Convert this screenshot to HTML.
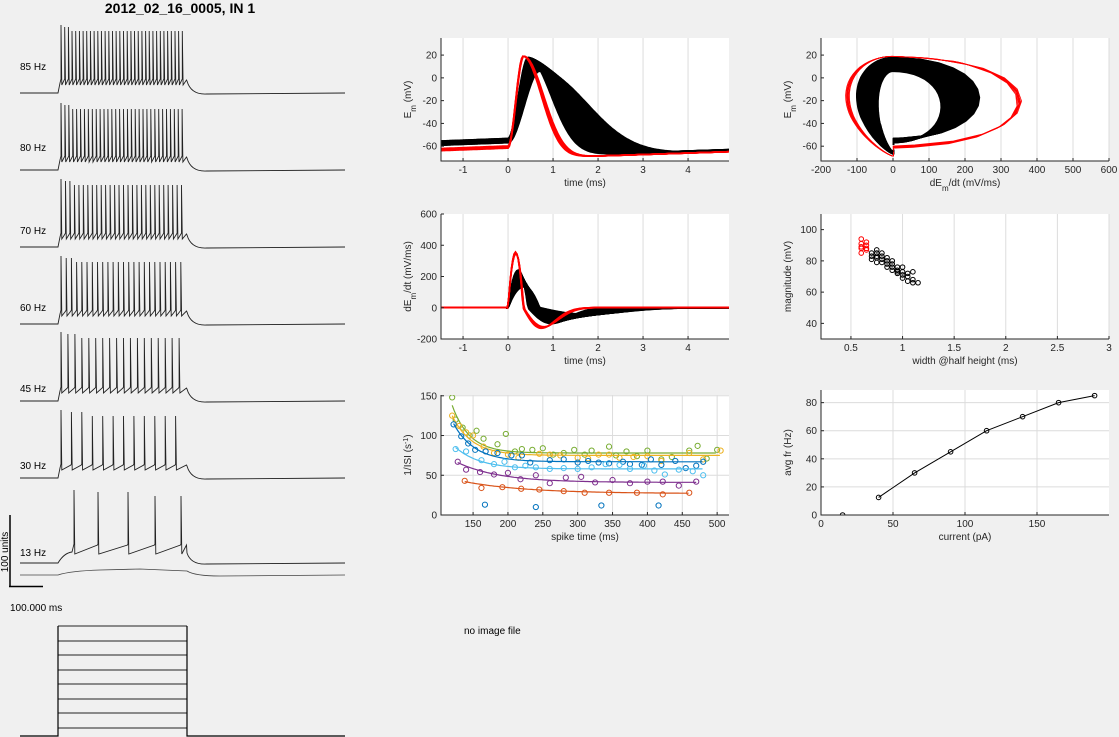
<!DOCTYPE html>
<html><head><meta charset="utf-8"><style>
body{margin:0;background:#f0f0f0;}
svg{display:block;font-family:"Liberation Sans",sans-serif;}
text{fill:#262626;font-size:10px;}
</style></head><body>
<svg id="s" width="1119" height="737" viewBox="0 0 1119 737" xmlns="http://www.w3.org/2000/svg">
<text x="180" y="13" text-anchor="middle" style="font-size:14px;font-weight:bold;fill:#000">2012_02_16_0005, IN 1</text>
<text x="464" y="634" style="font-size:10px;fill:#000">no image file</text>
<text x="10" y="611" style="font-size:10px;fill:#000">100.000 ms</text>
<line x1="10" y1="515" x2="10" y2="587" stroke="#000" stroke-width="1.5"/>
<line x1="9" y1="586.5" x2="43" y2="586.5" stroke="#000" stroke-width="1.5"/>
<text transform="translate(8,552) rotate(-90)" text-anchor="middle" style="font-size:10px;fill:#000">100 units</text>
<g id="traces"></g>
<g id="stim"></g>
<g id="charts"></g>
</svg>
<script>
// ---- data ----
const traceFreqs=[85,80,70,60,45,30,13];
const traceBase=[93,170,247,324,401,478,563];
const traceTop=[25,103,179,256,332,410,490];
const traceLabelY=[70,151,234,311,392,469,556];
const lowSpikeX=[74,98,128,155,181];
const stimLevels=[626,641,655,670,684,699,713,728];
const fiCurrent=[15,40,65,90,115,140,165,190];
const fiRate=[0,12.5,30,45,60,70,80,85];
const redWidth=[0.6,0.6,0.6,0.6,0.6,0.65,0.65,0.65,0.65];
const redMag=[94,91,88,85,89,92,90,87,88];
const blackWidth=[0.7,0.7,0.7,0.75,0.75,0.75,0.75,0.75,0.8,0.8,0.8,0.8,0.85,0.85,0.85,0.85,0.9,0.9,0.9,0.9,0.95,0.95,0.95,0.95,1,1,1,1,1.05,1.05,1.05,1.1,1.1,1.1,1.15];
const blackMag=[85,83,81,87,85,83,82,79,85,83,81,79,82,80,78,76,80,78,76,74,76,74,72,73,76,73,71,69,72,70,67,73,68,66,66];
const isiColors=['#77ac30','#edb120','#0072bd','#4dbeee','#7e2f8e','#d95319'];
const isiT=[
[120,125,135,145,155,165,185,197,210,220,235,250,265,280,295,310,320,345,355,370,385,400,420,435,460,472,485,500],
[120,130,140,150,165,180,200,215,245,260,275,300,315,330,345,360,380,400,420,460,480,505],
[122,133,143,153,168,185,205,220,232,260,280,300,315,330,345,365,375,392,405,420,440,455,470,480,167,240,334,416],
[125,140,162,180,195,210,225,240,260,280,300,320,340,360,375,395,410,425,445,465,480],
[128,140,160,180,200,218,240,260,283,305,325,350,375,400,422,445,470],
[138,162,192,219,245,280,310,345,385,422,460]];
const isiV=[
[148,120,110,100,106,96,89,102,80,83,82,84,76,78,82,76,81,86,75,80,74,81,70,73,81,87,71,82],
[125,112,104,100,86,78,76,72,77,76,75,72,71,76,76,72,73,74,68,78,70,81],
[114,99,90,82,80,78,75,75,66,69,70,66,68,66,65,67,64,63,70,63,68,59,62,67,13,10,12,12],
[83,80,69,64,67,60,62,60,58,59,58,60,64,63,58,62,56,51,57,55,50],
[67,57,54,51,53,45,50,40,47,48,41,44,40,42,42,37,42],
[43,34,35,33,32,30,28,28,28,26,28]];
const fitA=[78,75,67,58,41,27], fitB=[60,50,48,27,25,15], fitTau=[25,28,30,35,60,90], fitT0=[120,120,122,125,128,138], fitT1=[500,505,480,480,472,460];
const spikeK=[]; for(let i=0;i<40;i++) spikeK.push(0.15+0.85*i/39);
const redK=[0,0.02,0.04,0.06,0.08,0.1,0.05,0.03];

const NS='http://www.w3.org/2000/svg';
const S=document.getElementById('s');
function el(tag,attrs,parent){const e=document.createElementNS(NS,tag);for(const k in attrs)e.setAttribute(k,attrs[k]);(parent||S).appendChild(e);return e;}

// ---- left traces ----
const TG=document.getElementById('traces');
traceFreqs.forEach((f,i)=>{
  const b=traceBase[i], top=traceTop[i], n=Math.round(f*0.4);
  const plat=b-14, x0=58,x1=187;
  let xs=[];
  if(f<20) xs=lowSpikeX.slice();
  else {const sp=(x1-x0-4)/n; for(let j=0;j<n;j++) xs.push(x0+3+j*sp);}
  let d=`M20 ${b} L${x0} ${b}`;
  if(f<20) d+=` Q${x0+6} ${b-10} ${x0+14} ${b-11}`; else d+=` L${x0+2} ${plat+4}`;
  xs.forEach((x,j)=>{
    const nx=(j+1<xs.length)?xs[j+1]:x1;
    const pl=f<20?b-13:plat;
    d+=` L${x.toFixed(1)} ${pl-(f<20?6:0)} L${x.toFixed(1)} ${top+(j===0?0:j<3?2:6)} L${(x+0.8).toFixed(1)} ${pl+(f<20?4:6)} L${(nx-0.5).toFixed(1)} ${pl-(f<20?6:0)+1}`;
  });
  d+=` L${x1} ${(f<20?b-10:plat+2)} Q${x1+4} ${b+2} ${x1+20} ${b+1} L345 ${b}`;
  const p=el('path',{d,fill:'none',stroke:'#222','stroke-width':0.9},TG);
  
  
  const t=el('text',{x:20,y:traceLabelY[i],style:'font-size:10px;fill:#000'},TG);
  t.textContent=f+' Hz';
  
  
});
const extra=el('path',{d:'M20 575 L58 575 Q70 571 100 570 L140 569 L187 571 Q195 576 220 576 L345 575',fill:'none',stroke:'#444','stroke-width':0.8},TG);


const SG=document.getElementById('stim');
stimLevels.forEach((y,i)=>{
  const l=el('line',{x1:58,y1:y,x2:187,y2:y,stroke:'#222','stroke-width':1},SG);
  
  
});
el('path',{d:'M20 736 L58 736 L58 626 M187 626 L187 736 L345 736',fill:'none',stroke:'#000','stroke-width':1.2},SG);

// ---- axes helper ----
const CG=document.getElementById('charts');
let clipId=0;
function axes(name,box,xd,yd,xt,yt,xlab,ylab,hgrid){
  const g=el('g',{},CG);
  
  
  const [L,T,R,B]=box;
  el('rect',{x:L,y:T,width:R-L,height:B-T,fill:'#fff'},g);
  const sx=v=>L+(v-xd[0])/(xd[1]-xd[0])*(R-L);
  const sy=v=>B-(v-yd[0])/(yd[1]-yd[0])*(B-T);
  xt.forEach(v=>{const x=sx(v);el('line',{x1:x,y1:T,x2:x,y2:B,stroke:'#dcdcdc','stroke-width':1},g);});
  if(hgrid) yt.forEach(v=>{const y=sy(v);el('line',{x1:L,y1:y,x2:R,y2:y,stroke:'#dcdcdc','stroke-width':1},g);});
  const id='c'+(clipId++);
  const cp=el('clipPath',{id},g); el('rect',{x:L,y:T,width:R-L,height:B-T},cp);
  const plot=el('g',{'clip-path':`url(#${id})`},g);
  
  
  const ax=el('g',{},g);
  el('path',{d:`M${L} ${T} L${L} ${B} L${R} ${B}`,fill:'none',stroke:'#262626','stroke-width':1},ax);
  xt.forEach(v=>{const x=sx(v);el('line',{x1:x,y1:B,x2:x,y2:B-3,stroke:'#262626'},ax);
    const t=el('text',{x,y:B+12,'text-anchor':'middle'},ax);t.textContent=v;
    });
  yt.forEach(v=>{const y=sy(v);el('line',{x1:L,y1:y,x2:L+3,y2:y,stroke:'#262626'},ax);
    const t=el('text',{x:L-4,y:y+3.5,'text-anchor':'end'},ax);t.textContent=v;
    });
  const xl=el('text',{x:(L+R)/2,y:B+25,'text-anchor':'middle'},ax);xl.innerHTML=xlab;
  
  const yl=el('text',{transform:`translate(${L-30},${(T+B)/2}) rotate(-90)`,'text-anchor':'middle'},ax);yl.innerHTML=ylab;
  
  return {plot,sx,sy};
}

// ---- spike waveform model ----
function wave(k,red){
  const base=red?-62-2*k*10:-55-4*k, tp=red?0.33+0.2*k:0.4+0.3*k, Vp=red?19:18-12*k*k;
  const w=red?0.58+0.5*k:0.6+0.9*k, Vmin=red?-70:-68;
  const pts=[];
  for(let t=-1.5;t<=4.95;t+=0.03){
    let v;
    if(t<0) v=base+(t+1.5)*1.5;
    else if(t<tp){const s=t/tp; v=(base+2.2)+(Vp-base-2.2)*s*s*(3-2*s);}
    else {const u=(t-tp)/w; const g=Math.exp(-u*u); v=Vmin+(Vp-Vmin)*g+Math.max(0,t-tp-w)*1.3*(1-g);}
    pts.push([t,v]);
  }
  return pts;
}
function deriv(p){const o=[];for(let i=1;i<p.length;i++)o.push([(p[i][0]+p[i-1][0])/2,(p[i][1]+p[i-1][1])/2,(p[i][1]-p[i-1][1])/(p[i][0]-p[i-1][0])]);return o;}

const A1=axes('em-vs-time',[441,38,729,161],[-1.49,4.91],[-73,35],[-1,0,1,2,3,4],[-60,-40,-20,0,20],'time (ms)','E<tspan baseline-shift="sub" font-size="8">m</tspan> (mV)',false);
const A2=axes('phase-plot',[821,38,1109,161],[-200,600],[-73,35],[-200,-100,0,100,200,300,400,500,600],[-60,-40,-20,0,20],'dE<tspan baseline-shift="sub" font-size="8">m</tspan>/dt (mV/ms)','E<tspan baseline-shift="sub" font-size="8">m</tspan> (mV)',false);
const A3=axes('dvdt-vs-time',[441,214,729,339],[-1.49,4.91],[-200,600],[-1,0,1,2,3,4],[-200,0,200,400,600],'time (ms)','dE<tspan baseline-shift="sub" font-size="8">m</tspan>/dt (mV/ms)',false);
function drawWaves(ks,red){
  ks.forEach((k,i)=>{
    const w=wave(k,red), d=deriv(w), col=red?'#ff0000':'#000';
    const p1=el('path',{d:'M'+w.map(q=>A1.sx(q[0]).toFixed(1)+' '+A1.sy(q[1]).toFixed(1)).join('L'),fill:'none',stroke:col,'stroke-width':red?1.6:2},A1.plot);
    
    const p2=el('path',{d:'M'+d.map(q=>A2.sx(q[2]).toFixed(1)+' '+A2.sy(q[1]).toFixed(1)).join('L'),fill:'none',stroke:col,'stroke-width':red?0.8:2},A2.plot);
    
    const p3=el('path',{d:'M'+d.map(q=>A3.sx(q[0]).toFixed(1)+' '+A3.sy(q[2]).toFixed(1)).join('L'),fill:'none',stroke:col,'stroke-width':red?1.6:2},A3.plot);
    
  });
}
drawWaves(spikeK,false); drawWaves(redK,true);

const A4=axes('magnitude-vs-width',[821,214,1109,339],[0.21,3],[30,110],[0.5,1,1.5,2,2.5,3],[40,60,80,100],'width @half height (ms)','magnitude (mV)',false);
blackWidth.forEach((w,i)=>{const c=el('circle',{cx:A4.sx(w),cy:A4.sy(blackMag[i]),r:2.3,fill:'none',stroke:'#000','stroke-width':1},A4.plot);});
redWidth.forEach((w,i)=>{const c=el('circle',{cx:A4.sx(w),cy:A4.sy(redMag[i]),r:2.3,fill:'none',stroke:'#ff0000','stroke-width':1},A4.plot);});

const A5=axes('isi-vs-time',[441,395,729,515],[104,517],[0,151],[150,200,250,300,350,400,450,500],[0,50,100,150],'spike time (ms)','1/ISI (s<tspan baseline-shift="super" font-size="7">-1</tspan>)',true);
isiColors.forEach((c,s)=>{
  let d='';
  for(let t=fitT0[s];t<=fitT1[s];t+=3){const v=fitA[s]+fitB[s]*Math.exp(-(t-fitT0[s])/fitTau[s]);d+=(d?'L':'M')+A5.sx(t).toFixed(1)+' '+A5.sy(v).toFixed(1);}
  const f=el('path',{d,fill:'none',stroke:c,'stroke-width':1.2},A5.plot);
  
  isiT[s].forEach((t,i)=>{const p=el('circle',{cx:A5.sx(t),cy:A5.sy(isiV[s][i]),r:2.6,fill:'none',stroke:c,'stroke-width':1},A5.plot);
    });
});

const A6=axes('fi-curve',[821,390,1109,515],[0,200],[0,89],[0,50,100,150],[0,20,40,60,80],'current (pA)','avg fr (Hz)',true);
const fl=el('path',{d:'M'+fiCurrent.slice(1).map((c,i)=>A6.sx(c).toFixed(1)+' '+A6.sy(fiRate[i+1]).toFixed(1)).join('L'),fill:'none',stroke:'#000','stroke-width':1},A6.plot);

fiCurrent.forEach((c,i)=>{const p=el('circle',{cx:A6.sx(c),cy:A6.sy(fiRate[i]),r:2.3,fill:'none',stroke:'#000','stroke-width':1},A6.plot);
  });
</script>
</body></html>
